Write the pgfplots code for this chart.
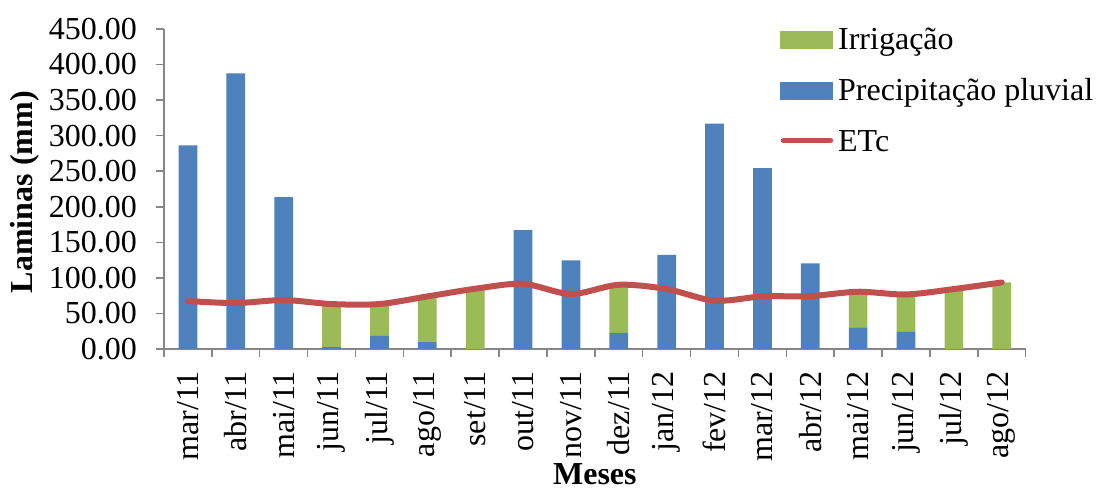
\documentclass[border=0pt]{standalone}
\usepackage{fontspec}
\setmainfont{Liberation Serif}
\usepackage{pgfplots}
\usepackage{pgfplotstable}
\pgfplotsset{compat=1.18}

\definecolor{chuva}{HTML}{4F81BD}
\definecolor{irrig}{HTML}{9BBB59}
\definecolor{etc}{HTML}{C0504D}
\definecolor{eixo}{HTML}{868686}

% monthly depths (mm): rainfall, irrigation and crop evapotranspiration
\pgfplotstableread{
idx rain irr etc
0  286.5  0.0  67.4
1  387.6  0.0  64.6
2  213.5  0.0  68.8
3  2.8   60.4  63.2
4  18.3  44.9  63.2
5  9.8   64.1  73.9
6  0.0   84.7  84.7
7  167.1  0.0  91.7
8  124.5  0.0  77.3
9  22.5  67.8  90.3
10 132.5  0.0  84.3
11 317.0  0.0  67.9
12 254.2  0.0  73.9
13 120.3  0.0  74.4
14 30.4  50.1  80.5
15 24.7  52.0  76.7
16 0.0   84.3  84.3
17 0.0   93.6  93.6
}\dados

\pgfplotsset{
  quadro/.style={
    scale only axis, width=861.7pt, height=320pt,
    xmin=-0.5, xmax=17.5, ymin=0, ymax=450,
  }
}

\begin{document}
\fontsize{32}{38}\selectfont
\begin{tikzpicture}
\begin{axis}[quadro, name=main,
  ybar stacked, bar width=18.7pt,
  axis x line*=bottom, axis y line*=left,
  axis line style={eixo, line width=1.5pt},
  ytick distance=50,
  xtick={0,...,17},
  xticklabels={mar/11,abr/11,mai/11,jun/11,jul/11,ago/11,set/11,out/11,nov/11,dez/11,jan/12,fev/12,mar/12,abr/12,mai/12,jun/12,jul/12,ago/12},
  minor xtick={-0.5,0.5,...,17.5},
  major x tick style={draw=none},
  minor x tick style={eixo, line width=1.5pt},
  y tick style={eixo, line width=1.5pt},
  tick align=outside, major tick length=8pt, minor tick length=8pt,
  /pgf/number format/assume math mode=true,
  yticklabel style={/pgf/number format/fixed, /pgf/number format/fixed zerofill, /pgf/number format/precision=2, anchor=east, inner sep=0pt},
  xticklabel style={rotate=90, anchor=east, inner sep=0pt},
  yticklabel shift=19pt,
  xticklabel shift=14pt,
  xlabel={\textbf{Meses}},
  ylabel={\textbf{Laminas (mm)}},
  xlabel style={at={(axis description cs:0.5,-0.425)}, anchor=base, inner sep=0pt},
  ylabel style={at={(axis description cs:-0.1619,0.49)}, anchor=center, inner sep=0pt},
  legend cell align=left,
  legend style={draw=none, fill=none, at={(0.7149,1.0178)}, anchor=north west,
    inner sep=0pt, row sep=15pt, column sep=3pt,
    nodes={inner sep=2pt, text height=24pt, text depth=8pt}},
]
\addlegendimage{legend image code/.code={\fill[irrig] (0pt,-6.4pt) rectangle (52pt,10pt);}}
\addlegendentry{Irrigação}
\addlegendimage{legend image code/.code={\fill[chuva] (0pt,-6.4pt) rectangle (52pt,10pt);}}
\addlegendentry{Precipitação pluvial}
\addlegendimage{legend image code/.code={\draw[etc, line width=5.5pt, line cap=round] (3pt,3pt) -- (50pt,3pt);}}
\addlegendentry{ETc}
\addplot[fill=chuva, draw=none] table[x=idx, y=rain] {\dados};
\addplot[fill=irrig, draw=none] table[x=idx, y=irr] {\dados};
\end{axis}
\begin{axis}[quadro, hide axis]
\addplot[etc, line width=6pt, smooth, line cap=round, line join=round] table[x=idx, y=etc] {\dados};
\end{axis}
\pgfresetboundingbox
\path[use as bounding box] ([shift={(-164pt,-140pt)}]main.south west) rectangle ([shift={(932pt,349pt)}]main.south west);
\end{tikzpicture}
\end{document}
